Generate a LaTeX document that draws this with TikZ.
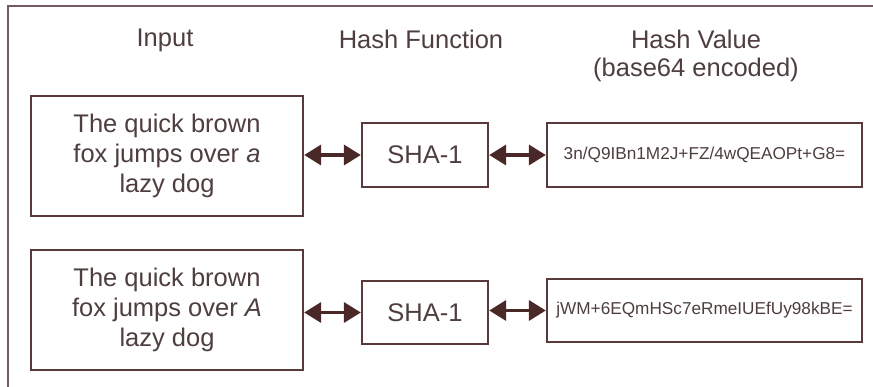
\documentclass[tikz,border=0pt]{standalone}
\usepackage{fontspec}
\setmainfont{Liberation Sans}
\usetikzlibrary{arrows.meta}
\definecolor{boxc}{RGB}{88,58,58}
\definecolor{textc}{RGB}{78,62,62}
\definecolor{framec}{RGB}{112,92,98}
\definecolor{arrc}{RGB}{75,40,40}
\tikzset{
  box/.style={draw=boxc, line width=1.3pt, inner sep=0pt, align=center, text=textc},
  title/.style={text=textc, font=\fontsize{25.5}{30}\selectfont, align=center, inner sep=0pt},
  bigtxt/.style={font=\fontsize{25.5}{30}\selectfont},
  hashtxt/.style={font=\fontsize{17.2}{20}\selectfont},
  link/.style={draw=arrc, line width=3.5pt, {Triangle[length=17pt,width=20pt]}-{Triangle[length=17pt,width=20pt]}, shorten <=0.5pt, shorten >=0.5pt}
}
\begin{document}
\begin{tikzpicture}[x=1pt,y=-1pt]
\useasboundingbox (0,0) rectangle (873,387);
\draw[framec, line width=2pt] (8,390) -- (8,6) -- (876,6);
\node[title] (tin) at (165,40) {Input};
\node[title] (thf) at (421,39) {Hash Function};
\node[title] (thv) at (696,39) {Hash Value};
\node[title] (tb64) at (696,70) {(base64 encoded)};
% row 1
\node[box, bigtxt, minimum width=272pt, minimum height=120pt] (in1) at (167,156) {The quick brown\\fox jumps over \textit{a}\\lazy dog};
\node[box, bigtxt, minimum width=126pt, minimum height=64pt] (sha1) at (425,155) {SHA-1};
\node[box, hashtxt, minimum width=315pt, minimum height=64pt] (hv1) at (704.5,155) {3n/Q9IBn1M2J+FZ/4wQEAOPt+G8=};
\draw[link] (in1.east |- sha1.west) -- (sha1.west);
\draw[link] (sha1.east) -- (hv1.west);
% row 2
\node[box, bigtxt, minimum width=272pt, minimum height=120pt] (in2) at (167,310) {The quick brown\\fox jumps over \textit{A}\\lazy dog};
\node[box, bigtxt, minimum width=126pt, minimum height=63pt] (sha2) at (425,312.5) {SHA-1};
\node[box, hashtxt, minimum width=315pt, minimum height=63pt] (hv2) at (704.5,310.5) {jWM+6EQmHSc7eRmeIUEfUy98kBE=};
\draw[link] (in2.east |- sha2.west) -- (sha2.west);
\draw[link] (sha2.east |- hv2.west) -- (hv2.west);
\end{tikzpicture}
\end{document}
